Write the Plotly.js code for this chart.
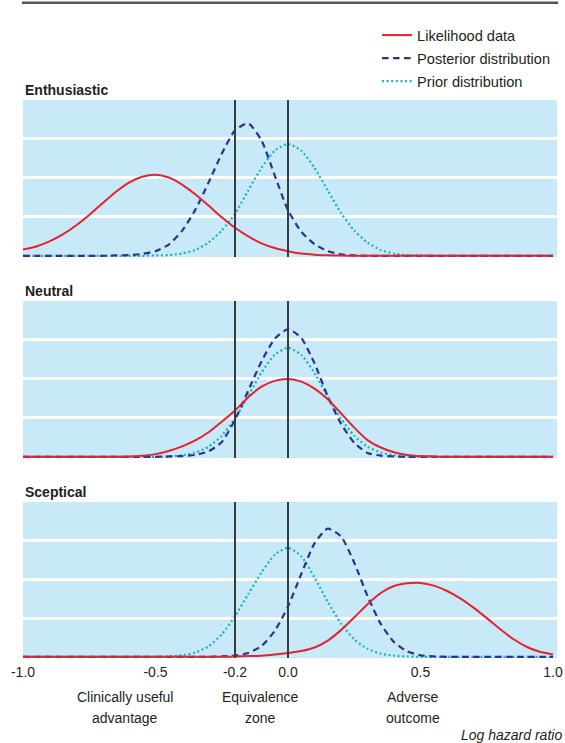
<!DOCTYPE html>
<html>
<head>
<meta charset="utf-8">
<script src="https://cdn.plot.ly/plotly-3.0.1.min.js"></script>
<style>
  html, body { margin: 0; padding: 0; background: #ffffff; }
  #chart { width: 565px; height: 743px; }
</style>
</head>
<body>
<div id="chart"></div>
<script>
// Log hazard ratio grid (x values)
const logHR = [-1.00,-0.95,-0.90,-0.85,-0.80,-0.75,-0.70,-0.65,-0.60,-0.55,
               -0.50,-0.45,-0.40,-0.35,-0.30,-0.25,-0.20,-0.15,-0.10,-0.05,
                0.00, 0.05, 0.10, 0.15, 0.20, 0.25, 0.30, 0.35, 0.40, 0.45,
                0.50, 0.55, 0.60, 0.65, 0.70, 0.75, 0.80, 0.85, 0.90, 0.95, 1.00];

// Enthusiastic panel
const enthLikelihood = [0.16,0.24,0.37,0.55,0.78,1.05,1.35,1.64,1.88,2.03,
                        2.08,2.01,1.83,1.58,1.29,0.99,0.72,0.50,0.32,0.20,
                        0.12,0.06,0.03,0.015,0.007,0.003,0,0,0,0,
                        0,0,0,0,0,0,0,0,0,0,0];
const enthPosterior  = [0,0,0,0,0,0,0,0.01,0.02,0.05,
                        0.12,0.29,0.64,1.18,1.88,2.62,3.22,3.40,2.96,2.06,
                        1.17,0.62,0.30,0.12,0.04,0.01,0,0,0,0,
                        0,0,0,0,0,0,0,0,0,0,0];
const enthPrior      = [0,0,0,0,0,0,0,0,0,0,
                        0.01,0.02,0.06,0.15,0.34,0.65,1.08,1.68,2.26,2.70,
                        2.87,2.70,2.26,1.68,1.10,0.65,0.34,0.15,0.06,0.02,
                        0.01,0,0,0,0,0,0,0,0,0,0];

// Neutral panel
const neutLikelihood = [0,0,0,0,0,0,0,0,0.01,0.03,
                        0.07,0.15,0.27,0.42,0.63,0.90,1.19,1.53,1.80,1.95,
                        2.00,1.93,1.75,1.48,1.12,0.75,0.43,0.24,0.12,0.05,
                        0.02,0.01,0,0,0,0,0,0,0,0,0];
const neutPosterior  = [0,0,0,0,0,0,0,0,0,0,
                        0,0.01,0.02,0.05,0.14,0.38,0.95,1.70,2.45,3.03,
                        3.28,3.05,2.40,1.55,0.85,0.36,0.10,0.03,0.01,0,
                        0,0,0,0,0,0,0,0,0,0,0];
const neutPrior      = [0,0,0,0,0,0,0,0,0,0,
                        0,0.01,0.04,0.11,0.26,0.54,0.98,1.57,2.16,2.62,
                        2.80,2.62,2.15,1.55,0.98,0.54,0.26,0.11,0.04,0.01,
                        0,0,0,0,0,0,0,0,0,0,0];

// Sceptical panel
const scepLikelihood = [0,0,0,0,0,0,0,0,0,0,
                        0,0,0,0,0,0,0.01,0.02,0.03,0.06,
                        0.10,0.15,0.24,0.42,0.69,1.02,1.36,1.65,1.83,1.90,
                        1.91,1.84,1.70,1.51,1.27,1.00,0.72,0.46,0.26,0.13,0.06];
const scepPosterior  = [0,0,0,0,0,0,0,0,0,0,
                        0,0,0,0,0,0.01,0.03,0.10,0.28,0.67,
                        1.30,2.14,2.93,3.31,3.11,2.43,1.57,0.85,0.38,0.14,
                        0.04,0.01,0,0,0,0,0,0,0,0,0];
const scepPrior      = [0,0,0,0,0,0,0,0,0,0,
                        0,0.01,0.04,0.11,0.27,0.58,1.05,1.62,2.18,2.64,
                        2.82,2.60,2.05,1.42,0.86,0.45,0.21,0.08,0.03,0.01,
                        0,0,0,0,0,0,0,0,0,0,0];

const panelNames = ["Enthusiastic", "Neutral", "Sceptical"];
const seriesNames = ["Likelihood data", "Posterior distribution", "Prior distribution"];
const tickValues = [-1.0, -0.5, -0.2, 0.0, 0.5, 1.0];
const tickLabels = ["-1.0", "-0.5", "-0.2", "0.0", "0.5", "1.0"];
const zoneLabels = [
  {x: -0.615, lines: ["Clinically useful", "advantage"]},
  {x: -0.105, lines: ["Equivalence", "zone"]},
  {x: 0.47,  lines: ["Adverse", "outcome"]}
];
const zoneLines = [-0.2, 0.0];

const FONT = '"Liberation Sans", Arial, sans-serif';
const RED = '#e6222c', NAVY = '#2c338f', CYAN = '#1bb2c2';

const panels = [
  {lik: enthLikelihood, post: enthPosterior, prior: enthPrior},
  {lik: neutLikelihood, post: neutPosterior, prior: neutPrior},
  {lik: scepLikelihood, post: scepPosterior, prior: scepPrior}
];

const traces = [];
panels.forEach((p, i) => {
  const xa = i === 0 ? 'x' : 'x' + (i + 1);
  const ya = i === 0 ? 'y' : 'y' + (i + 1);
  const common = {x: logHR, xaxis: xa, yaxis: ya, mode: 'lines', hoverinfo: 'skip'};
  traces.push(Object.assign({}, common, {
    y: p.prior, name: seriesNames[2], legendgroup: 'prior', legendrank: 3, showlegend: i === 0,
    line: {color: CYAN, width: 2.2, dash: '2px,2.6px', shape: 'spline', smoothing: 0.6}
  }));
  traces.push(Object.assign({}, common, {
    y: p.post, name: seriesNames[1], legendgroup: 'post', legendrank: 2, showlegend: i === 0,
    line: {color: NAVY, width: 2.2, dash: '6.5px,4.5px', shape: 'spline', smoothing: 0.6}
  }));
  traces.push(Object.assign({}, common, {
    y: p.lik, name: seriesNames[0], legendgroup: 'lik', legendrank: 1, showlegend: i === 0,
    line: {color: RED, width: 2, shape: 'spline', smoothing: 0.6}
  }));
});

// Plot area: top 100px, bottom 658px -> 558px tall
const domains = [[0.7186, 1.0], [0.3584, 0.6398], [0.0, 0.2796]];
const layout = {
  width: 565, height: 743,
  margin: {l: 23, r: 8, t: 100, b: 85},
  paper_bgcolor: '#ffffff',
  plot_bgcolor: '#c8e9f8',
  font: {family: FONT, size: 14, color: '#231f20'},
  showlegend: true,
  legend: {
    x: 0.663, y: 1.145, xanchor: 'left', yanchor: 'top',
    bgcolor: 'rgba(0,0,0,0)', borderwidth: 0,
    traceorder: 'grouped', tracegroupgap: 1,
    font: {family: FONT, size: 14.6, color: '#231f20'}
  },
  shapes: [],
  annotations: []
};

domains.forEach((d, i) => {
  const sfx = i === 0 ? '' : String(i + 1);
  layout['xaxis' + sfx] = {
    domain: [0, 1], anchor: 'y' + sfx, range: [-1, 1.015],
    showgrid: false, zeroline: false, showline: false, ticks: '',
    tickmode: 'array', tickvals: tickValues, ticktext: tickLabels,
    showticklabels: i === 2, ticklabeloverflow: 'allow', ticklabelstandoff: 4,
    tickfont: {family: FONT, size: 14, color: '#231f20'}
  };
  if (i > 0) layout['xaxis' + sfx].matches = 'x';
  layout['yaxis' + sfx] = {
    domain: d, anchor: 'x' + sfx, range: [-0.03, 4],
    showgrid: true, gridcolor: '#ffffff', gridwidth: 2.5,
    tickmode: 'array', tickvals: [1, 2, 3],
    showticklabels: false, zeroline: false, showline: false, ticks: ''
  };
  zoneLines.forEach(v => {
    layout.shapes.push({
      type: 'line', xref: 'x' + sfx, yref: 'y' + sfx + ' domain',
      x0: v, x1: v, y0: 0, y1: 1,
      line: {color: '#3a3a3a', width: 2}
    });
  });
  layout.annotations.push({
    text: '<b>' + panelNames[i] + '</b>', xref: 'paper', yref: 'paper',
    x: 0, y: d[1] + 0.018, xanchor: 'left', yanchor: 'middle', showarrow: false,
    font: {family: FONT, size: 14, color: '#231f20'}
  });
});

// Top rule
layout.shapes.push({
  type: 'line', xref: 'paper', yref: 'paper', x0: -0.002, x1: 1.002, y0: 1.1745, y1: 1.1745,
  line: {color: '#555555', width: 2.5}
});

zoneLabels.forEach(z => {
  z.lines.forEach((t, k) => {
    layout.annotations.push({
      text: t, xref: 'x3', yref: 'paper', x: z.x, y: k === 0 ? -0.0699 : -0.1075,
      xanchor: 'center', yanchor: 'middle', showarrow: false,
      font: {family: FONT, size: 14, color: '#231f20'}
    });
  });
});

layout.annotations.push({
  text: '<i>Log hazard ratio</i>', xref: 'paper', yref: 'paper', x: 1.013, y: -0.1385,
  xanchor: 'right', yanchor: 'middle', showarrow: false,
  font: {family: FONT, size: 14, color: '#231f20'}
});

Plotly.newPlot('chart', traces, layout, {displayModeBar: false, responsive: false});
</script>
</body>
</html>
